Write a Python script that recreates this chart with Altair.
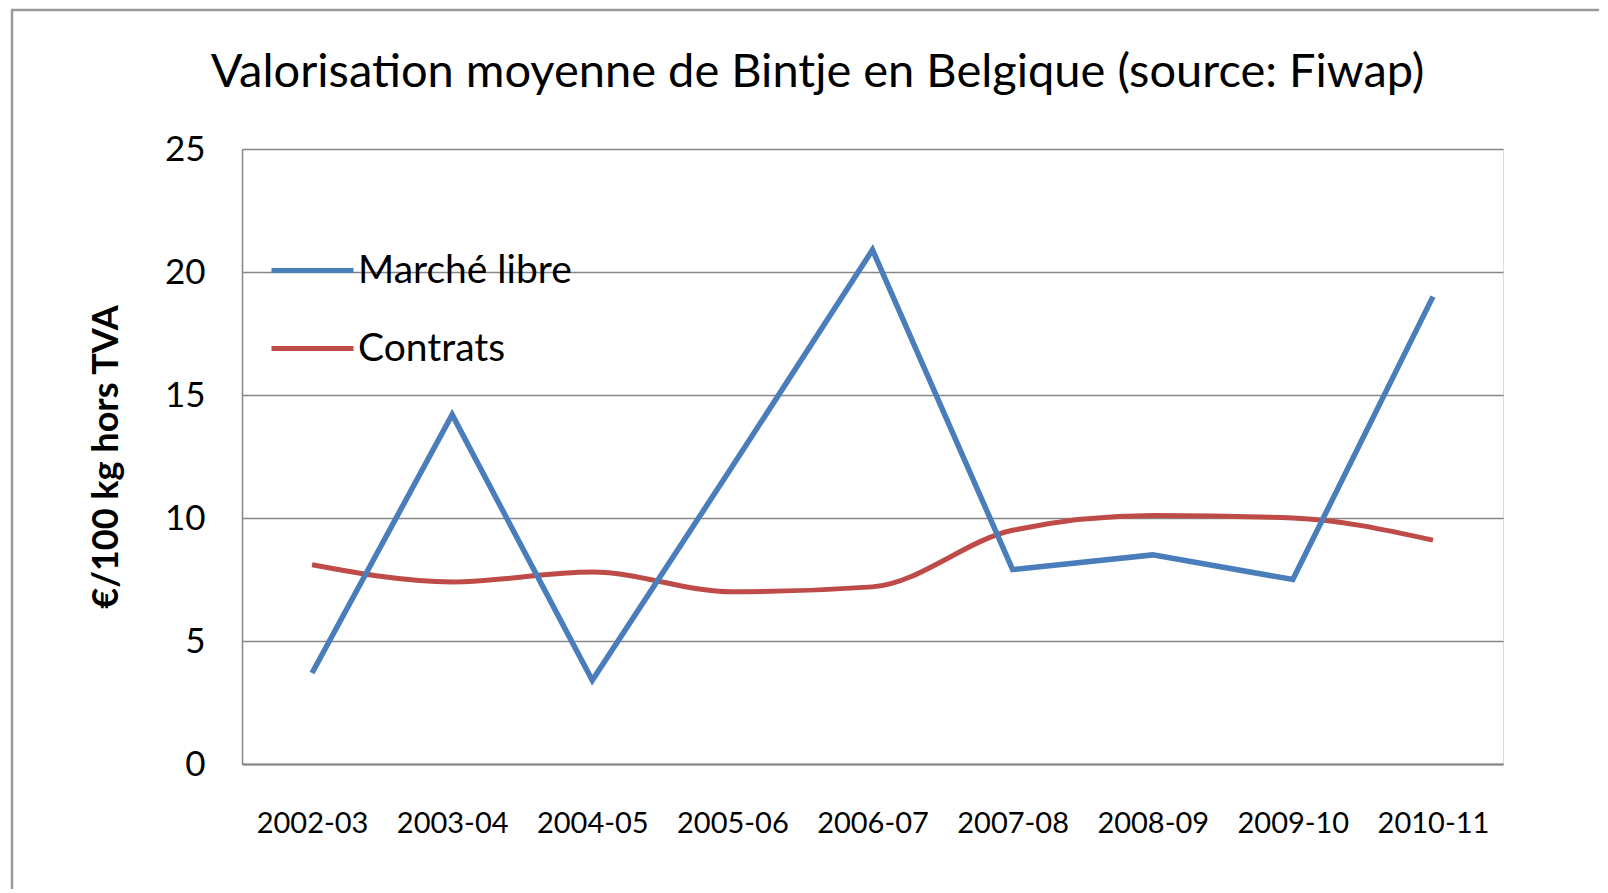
import altair as alt
import pandas as pd

categories = ["2002-03", "2003-04", "2004-05", "2005-06", "2006-07",
              "2007-08", "2008-09", "2009-10", "2010-11"]
marche_libre = [3.7, 14.2, 3.4, 12.1, 20.9, 7.9, 8.5, 7.5, 19.0]
contrats = [8.1, 7.4, 7.8, 7.0, 7.2, 9.5, 10.1, 10.0, 9.1]
series_names = ["Marché libre", "Contrats"]
series_colors = ["#4A7EBB", "#BE4B48"]

rows = []
for c, v in zip(categories, marche_libre):
    rows.append({"saison": c, "valeur": v, "serie": series_names[0]})
for c, v in zip(categories, contrats):
    rows.append({"saison": c, "valeur": v, "serie": series_names[1]})
df = pd.DataFrame(rows)

FONT = "Lato"
W, H = 1261, 615

x_enc = alt.X("saison:O", sort=categories,
              scale=alt.Scale(type="point", padding=0.5),
              axis=alt.Axis(title=None, labelAngle=0, labelFont=FONT, labelFontSize=29,
                            labelColor="#000000", ticks=False, labelPadding=45,
                            domainColor="#868686", domainWidth=2, grid=False))
y_enc = alt.Y("valeur:Q", scale=alt.Scale(domain=[0, 25]),
              axis=alt.Axis(title="€/100 kg hors TVA", values=[0, 5, 10, 15, 20, 25],
                            labelFont=FONT, labelFontSize=35, labelColor="#000000",
                            ticks=False, labelPadding=37,
                            domainColor="#868686", domainWidth=1.5,
                            gridColor="#868686", gridWidth=1.5,
                            titleFont=FONT, titleFontSize=36, titleFontWeight="bold",
                            titleColor="#000000", titleX=-136, titleY=H / 2,
                            titleAngle=-90, titleBaseline="middle", titleAlign="center"))
color_enc = alt.Color("serie:N",
                      scale=alt.Scale(domain=series_names, range=series_colors),
                      legend=alt.Legend(orient="none", legendX=27, legendY=78,
                                        title=None, symbolType="stroke",
                                        symbolSize=6724, symbolStrokeWidth=5,
                                        labelFont=FONT, labelFontSize=39, labelLimit=1000,
                                        labelColor="#000000", labelOffset=2,
                                        rowPadding=14))

blue = alt.Chart(df).transform_filter(alt.datum.serie == series_names[0]).mark_line(
    strokeWidth=5.5).encode(x=x_enc, y=y_enc, color=color_enc)
red = alt.Chart(df).transform_filter(alt.datum.serie == series_names[1]).mark_line(
    strokeWidth=5, interpolate="monotone").encode(x=x_enc, y=y_enc, color=color_enc)

frame_left = alt.Chart(pd.DataFrame({"f": [0]})).mark_rule(
    color="#9A9A9A", strokeWidth=2.5).encode(
    x=alt.value(-230), y=alt.value(-139), y2=alt.value(H + 140))
frame_top = alt.Chart(pd.DataFrame({"f": [0]})).mark_rule(
    color="#9A9A9A", strokeWidth=2.5).encode(
    x=alt.value(-231), x2=alt.value(W + 110), y=alt.value(-139))

chart = alt.layer(red, blue, frame_left, frame_top).properties(
    width=W, height=H,
    padding={"left": 234, "top": 141, "right": 96, "bottom": 125},
    autosize=alt.AutoSizeParams(type="none"),
    title=alt.TitleParams("Valorisation moyenne de Bintje en Belgique (source: Fiwap)",
                          font=FONT, fontSize=47, fontWeight="normal", color="#000000",
                          anchor="middle", frame="group", dx=-55, dy=125, offset=0,
                          baseline="alphabetic"),
).configure_view(stroke=None).configure(background="#FFFFFF")

chart.save("out.html", embed_options={"renderer": "svg", "actions": False})
